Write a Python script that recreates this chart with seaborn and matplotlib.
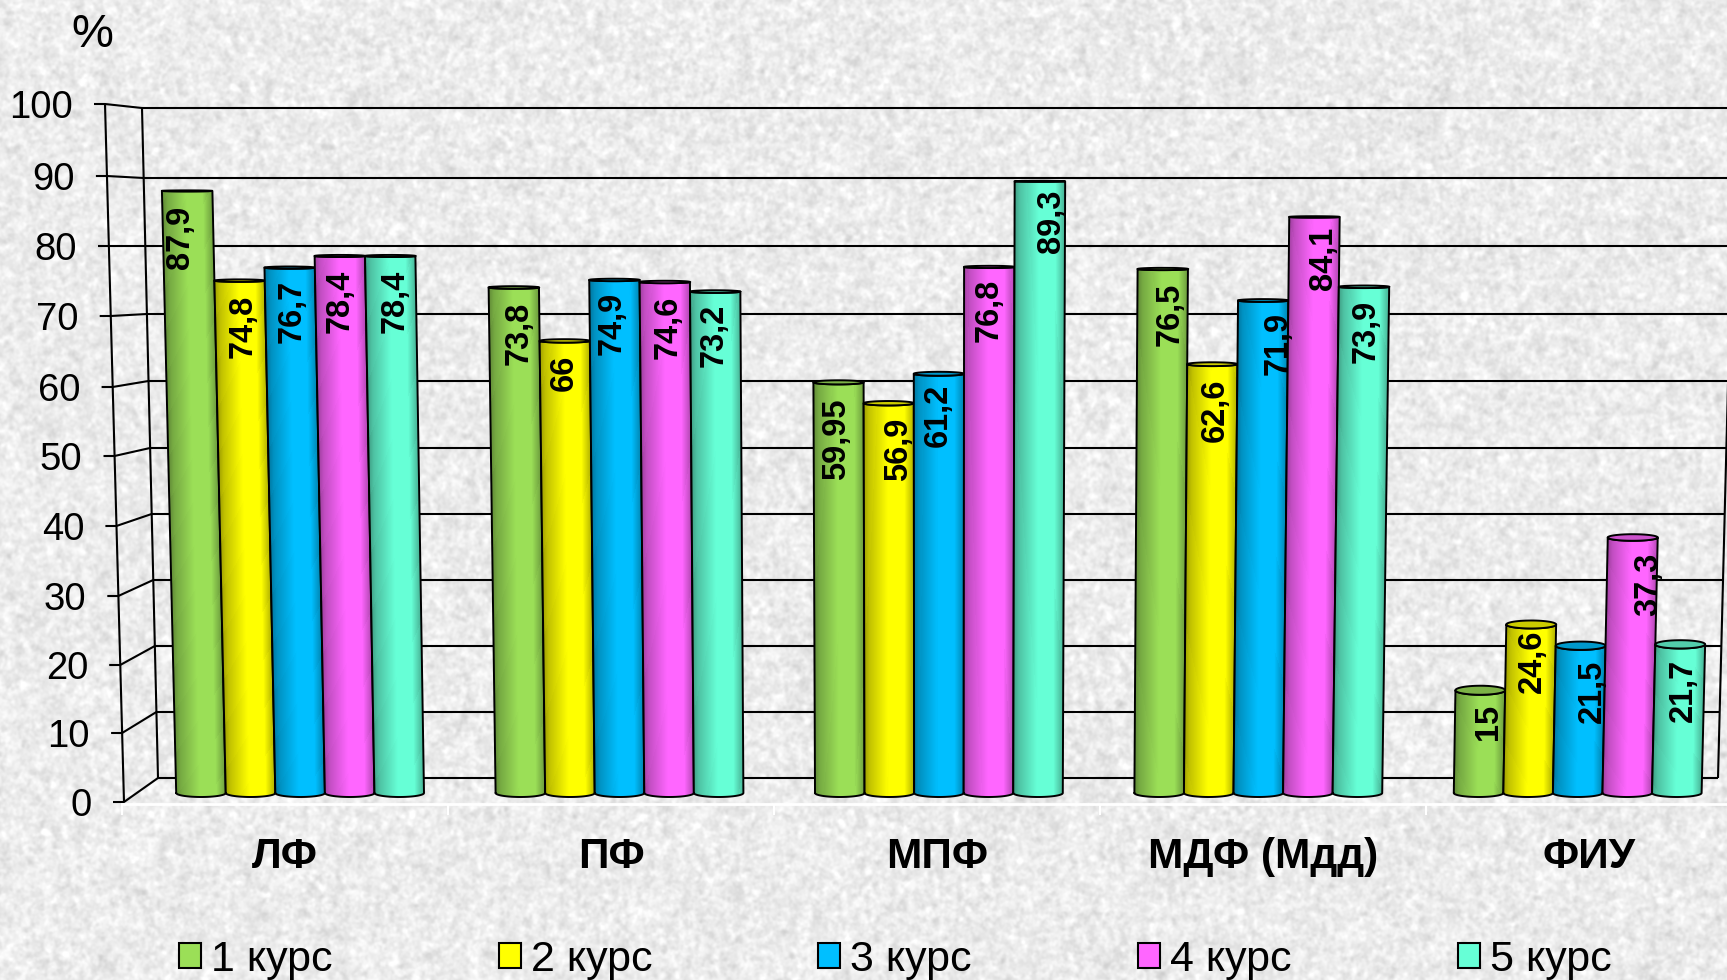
import matplotlib
matplotlib.use("Agg")
import matplotlib.pyplot as plt
import matplotlib.transforms as mtransforms
from matplotlib.collections import PolyCollection
from matplotlib.path import Path
from matplotlib.colors import to_rgb
import seaborn as sns
import pandas as pd
import numpy as np

sns.set_theme(style="white")
plt.rcParams['font.family'] = ['Liberation Sans', 'DejaVu Sans']

# --- DATA ---
faculties = ['ЛФ', 'ПФ', 'МПФ', 'МДФ (Мдд)', 'ФИУ']
courses = ['1 курс', '2 курс', '3 курс', '4 курс', '5 курс']
course_1 = [87.9, 73.8, 59.95, 76.5, 15]
course_2 = [74.8, 66, 56.9, 62.6, 24.6]
course_3 = [76.7, 74.9, 61.2, 71.9, 21.5]
course_4 = [78.4, 74.6, 76.8, 84.1, 37.3]
course_5 = [78.4, 73.2, 89.3, 73.9, 21.7]
y_ticks = [0, 10, 20, 30, 40, 50, 60, 70, 80, 90, 100]

colors = ['#9BDF57', '#FFFF00', '#00BFFF', '#FF66FF', '#66FFD6']

df = pd.DataFrame({
    'faculty': faculties * 5,
    'course': [c for c in courses for _ in faculties],
    'value': course_1 + course_2 + course_3 + course_4 + course_5,
})

# --- LAYOUT (pixels of the 1727x980 picture) ---
W, H = 1727, 980
front_y = [802, 733, 665, 596, 526, 456, 387, 316, 246, 176, 104]
wall_y = [778, 712, 646, 580, 514, 448, 381, 314, 246, 178, 108]
PX_PER_UNIT = 6.85
BASE_PX = 793
SPREAD = 0.000213  # bars fan out with height around the middle group
# sideways nudge of the value labels, they do not sit centred in the bars
label_dx = [[-7, 5, -2, 7, 8], [4, -1, 10, 3, 1], [2, -2, -1, 15, 12],
            [0, 3, 0, 9, 16], [5, -1, 12, 2, 3]]
label_gap = [[15, 14, 16, 14, 14], [14, 14, 14, 14, 5], [12, 12, 10, 11, 14],
             [14, 14, 12, 10, 15], [14, 12, 8, 13, 15]]


class BarPerspective(mtransforms.Transform):
    input_dims = 2
    output_dims = 2

    def transform_non_affine(self, xy):
        out = np.array(xy, dtype=float)
        out[:, 0] = 2 + (out[:, 0] - 2) * (1 + SPREAD * out[:, 1])
        return out


def paper_texture():
    # deterministic speckle, smoothed so it looks like the grainy slide background
    yy, xx = np.mgrid[0:H, 0:W]
    speck = np.sin(xx * 12.9898 + yy * 78.233) * 43758.5453
    speck = speck - np.floor(speck) - 0.5
    fy = np.fft.fftfreq(H)[:, None]
    fx = np.fft.rfftfreq(W)[None, :]
    spec = np.fft.rfft2(speck)
    fine = np.fft.irfft2(spec * np.exp(-2 * (np.pi * 1.2) ** 2 * (fx**2 + fy**2)), s=(H, W))
    coarse = np.fft.irfft2(spec * np.exp(-2 * (np.pi * 2.6) ** 2 * (fx**2 + fy**2)), s=(H, W))
    tex = fine / fine.std() * 0.014 + coarse / coarse.std() * 0.015
    return np.clip(0.925 + tex, 0, 1)


fig = plt.figure(figsize=(W / 100, H / 100), dpi=100)

# --- BACKGROUND AND 3D FRAME ---
frame = fig.add_axes([0, 0, 1, 1], zorder=0)
frame.imshow(paper_texture(), cmap='gray', vmin=0, vmax=1, extent=(0, W, H, 0), aspect='auto')
frame.set_axis_off()

line_kw = dict(color='black', lw=1.5, solid_capstyle='butt')
for i, tick in enumerate(y_ticks):
    t = tick / 100
    front_x = 124 + (105 - 124) * t
    back_x, back_y = 158 + (142 - 158) * t, wall_y[i]
    right_x = 1718 + 17 * t
    frame.plot([front_x - 11, front_x, back_x], [front_y[i], front_y[i], back_y], **line_kw)
    frame.plot([back_x, right_x], [back_y, back_y], **line_kw)
    frame.text(front_x - 32, front_y[i] + 4, str(tick), ha='right', va='center', fontsize=27.5, color='black')
frame.plot([124, 105], [802, 104], **line_kw)
frame.plot([158, 142], [wall_y[0], wall_y[-1]], **line_kw)
frame.plot([1718, 1735], [wall_y[0], wall_y[-1]], **line_kw)
frame.set_xlim(0, W)
frame.set_ylim(H, 0)
frame.text(92, 35, '%', ha='center', va='center', fontsize=34, color='black')

# --- CATEGORY AXIS ---
ax_lab = fig.add_axes([0, (H - 804) / H, 1, 0.001], zorder=1)
ax_lab.patch.set_visible(False)
ax_lab.set_yticks([])
ax_lab.set_xticks(range(len(faculties)), faculties, fontsize=30.5, fontweight='bold', color='black')
ax_lab.set_xticks(np.arange(len(faculties) + 1) - 0.5, minor=True)
ax_lab.set_xlim(-285 / 326, (W - 285) / 326)
ax_lab.tick_params(axis='x', which='major', length=0, pad=24)
ax_lab.tick_params(axis='x', which='minor', length=8, width=1.5, color='white', bottom=True)
for side in ['top', 'left', 'right']:
    ax_lab.spines[side].set_visible(False)
ax_lab.spines['bottom'].set_color('white')
ax_lab.spines['bottom'].set_linewidth(2)
ax_lab.spines['bottom'].set_bounds(-0.5, 4.5)

# --- BARS ---
ax = fig.add_axes([0, 0, 1, 1], zorder=2)
ax.patch.set_visible(False)
sns.barplot(data=df, x='faculty', y='value', hue='course', hue_order=courses, order=faculties,
            palette=colors, saturation=1, width=225 / 290, gap=0, ax=ax, linewidth=0)

persp = BarPerspective()
shade_pos = [0, 0.12, 0.5, 0.82, 1]
shade_val = [0.6, 0.76, 1, 1, 0.72]
arc = np.linspace(0, np.pi, 30)
bottom_ry = 4 / PX_PER_UNIT
strips = np.linspace(0, 1, 49)
strip_tone = np.interp((strips[:-1] + strips[1:]) / 2, shade_pos, shade_val)

for hue_i, container in enumerate(ax.containers):
    base = np.array(to_rgb(colors[hue_i]))
    for cat_i, bar in enumerate(container):
        x0, w, v = bar.get_x(), bar.get_width(), bar.get_height()
        xc, rx = x0 + w / 2, w / 2
        top_ry = (0.5 + 0.055 * max(88 - v, 0)) / PX_PER_UNIT
        bar.set_transform(persp + ax.transData)

        # cylinder body: left edge, bottom arc, right edge, front arc of the top
        bot = np.c_[xc - rx * np.cos(arc), -bottom_ry * np.sin(arc)]
        top = np.c_[xc + rx * np.cos(arc), v - top_ry * np.sin(arc)]
        body = persp.transform(np.r_[bot, top])
        body = np.r_[body, body[:1]]

        # cylinder shading across the bar, sheared along with it
        ylo, yhi = -2 * bottom_ry, v + 1
        quads = []
        for a, b in zip(x0 + w * strips[:-1], x0 + w * strips[1:]):
            quads.append(persp.transform([[a, ylo], [b, ylo], [b, yhi], [a, yhi]]))
        shade = PolyCollection(quads, facecolors=strip_tone[:, None] * base, edgecolors='face',
                               linewidths=0.4, antialiaseds=False, transform=ax.transData,
                               zorder=3 + hue_i * 0.1)
        ax.add_collection(shade, autolim=False)
        shade.set_clip_path(Path(body, closed=True), ax.transData)
        ax.plot(body[:, 0], body[:, 1], color='black', lw=1.4, zorder=3.05 + hue_i * 0.1)

        # visible top of the cylinder
        ang = np.linspace(0, 2 * np.pi, 60)
        lid = persp.transform(np.c_[xc + rx * np.cos(ang), v + top_ry * np.sin(ang)])
        ax.fill(lid[:, 0], lid[:, 1], facecolor=base * 0.8, edgecolor='black', lw=1.4,
                zorder=3.06 + hue_i * 0.1)

        # value label
        lx, ly = persp.transform([[xc, v]])[0]
        text = f"{v:g}".replace('.', ',')
        ax.annotate(text, (lx, ly), xytext=(label_dx[hue_i][cat_i], -label_gap[hue_i][cat_i]),
                    textcoords='offset pixels', rotation=90, ha='center', va='top', fontsize=23.5,
                    fontweight='bold', color='black', zorder=6)

ax.set_xlim(-300.1 / 319.4, (W - 300.1) / 319.4)
ax.set_ylim((BASE_PX - H) / PX_PER_UNIT, BASE_PX / PX_PER_UNIT)
ax.set_xlabel('')
ax.set_ylabel('')

# --- LEGEND ---
sns.move_legend(ax, 'center left', bbox_to_anchor=(179 / W, 1 - 960 / H), bbox_transform=fig.transFigure,
                ncol=5, frameon=False, title=None, fontsize=31, handlelength=0.51, handleheight=0.51,
                handletextpad=0.23, columnspacing=3.86, borderpad=0, borderaxespad=0)
leg = ax.get_legend()
for handle in leg.legend_handles:
    handle.set_edgecolor('black')
    handle.set_linewidth(1.5)
for label in leg.get_texts():
    label.set_color('black')

ax.set_axis_off()
fig.savefig('out.png', dpi=100)
